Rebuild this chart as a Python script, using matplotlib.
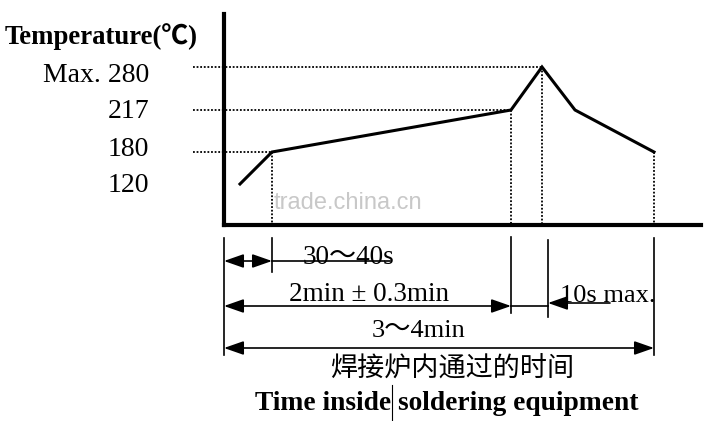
import numpy as np
import matplotlib.pyplot as plt
from matplotlib.transforms import ScaledTranslation

plt.rcParams['font.family'] = ['Liberation Serif', 'Noto Sans CJK SC', 'DejaVu Sans']

# reflow profile (schematic), time in s, temperature in C
times = [8, 24, 143.5, 159, 175.5, 215]
temps = [120, 180, 217, 280, 217, 180]

temp_ticks = [120, 180, 217, 280]
temp_labels = ['120', '180', '217', 'Max. 280']

# guide lines: (time, temp)
guide_h = [(24, 180), (143.5, 217), (159, 280)]
guide_v = [(24, 180), (143.5, 217), (159, 280), (215, 180)]

# dimension marks below the chart
t_start, t_soak, t_liq, t_10s, t_end = 0, 24, 143.5, 162, 215

# schematic (non linear) temperature axis
t_knots = [0, 120, 180, 217, 280, 350]
p_knots = [0, 41, 73, 115, 158, 211]


def fwd(t):
    return np.interp(t, t_knots, p_knots)


def inv(p):
    return np.interp(p, p_knots, t_knots)


fig = plt.figure(figsize=(7.21, 4.21), dpi=100)
ax = fig.add_axes([224 / 721, (421 - 225) / 421, (701 - 224) / 721, (225 - 14) / 421])
ax.set_yscale('function', functions=(fwd, inv))
ax.set_xlim(0, 238.5)
ax.set_ylim(0, 350)
for s in ['top', 'right']:
    ax.spines[s].set_visible(False)
for s in ['left', 'bottom']:
    ax.spines[s].set_linewidth(3)
ax.set_xticks([])
ax.set_yticks(temp_ticks, labels=temp_labels, fontsize=20)
ax.tick_params(axis='y', length=0, pad=54)
ax.yaxis.set_minor_locator(plt.NullLocator())
# labels sit a little off their guide lines in the original
for lab, dy in zip(ax.get_yticklabels(), [2, 6, 1, -6]):
    lab.set_transform(lab.get_transform() + ScaledTranslation(0, dy / 100, fig.dpi_scale_trans))

ax.plot(times, temps, color='black', lw=2.2, solid_joinstyle='miter', clip_on=False)

for t, T in guide_h:
    ax.plot([-15.5, t], [T, T], color='black', lw=1.3, ls=(0, (1, 1)), clip_on=False)
for t, T in guide_v:
    ax.plot([t, t], [T, 0], color='black', lw=1.3, ls=(0, (1, 1)), clip_on=False)

# watermark
ax.text(25, 64, 'trade.china.cn', family='Liberation Sans', fontsize=17,
        color='#c8c8c8', va='center', ha='left')

fig.text(0.007, 1 - 37 / 421, 'Temperature(℃)', fontsize=19.3, fontweight='bold',
         va='center', ha='left')

# dimension area, y in pixels from top
dim = fig.add_axes([224 / 721, 0, (701 - 224) / 721, (421 - 228) / 421], sharex=ax)
dim.set_ylim(421, 228)
dim.axis('off')

ext = [(t_start, 238, 355), (t_soak, 238, 272), (t_liq, 237, 313),
       (t_10s, 240, 317), (t_end, 238, 355)]
for t, y0, y1 in ext:
    dim.plot([t, t], [y0, y1], color='black', lw=1.2, clip_on=False)

arr = dict(arrowstyle='<|-|>,head_length=0.8,head_width=0.28', mutation_scale=15,
           color='black', lw=1.2, shrinkA=0, shrinkB=0)
arr1 = dict(arrowstyle='-|>,head_length=0.8,head_width=0.28', mutation_scale=15,
            color='black', lw=1.2, shrinkA=0, shrinkB=0)

dim.annotate('', xy=(t_soak, 261), xytext=(t_start, 261), arrowprops=arr)
dim.plot([t_soak, 83], [261, 261], color='black', lw=1.2)
dim.text(62.5, 258, '30～40s', fontsize=19.5, ha='center', va='center')

dim.annotate('', xy=(t_liq, 306), xytext=(t_start, 306), arrowprops=arr)
dim.text(72.5, 295, '2min ± 0.3min', fontsize=19.5, ha='center', va='center')
dim.plot([t_liq, t_10s], [306, 306], color='black', lw=1.2)
dim.annotate('', xy=(t_10s, 303), xytext=(193, 303), arrowprops=arr1)
dim.text(168, 296, '10s max.', fontsize=19, ha='left', va='center')

dim.annotate('', xy=(t_end, 348), xytext=(t_start, 348), arrowprops=arr)
dim.text(97.5, 331, '3～4min', fontsize=19, ha='center', va='center')

dim.text(114, 369, '焊接炉内通过的时间', family=['Noto Sans CJK SC'], fontsize=19.5,
         ha='center', va='center')
dim.text(111.5, 404, 'Time inside soldering equipment', fontsize=19.8,
         fontweight='bold', ha='center', va='center')
dim.plot([84, 84], [385, 421], color='black', lw=0.8, clip_on=False)

fig.savefig('out.png', dpi=100)
